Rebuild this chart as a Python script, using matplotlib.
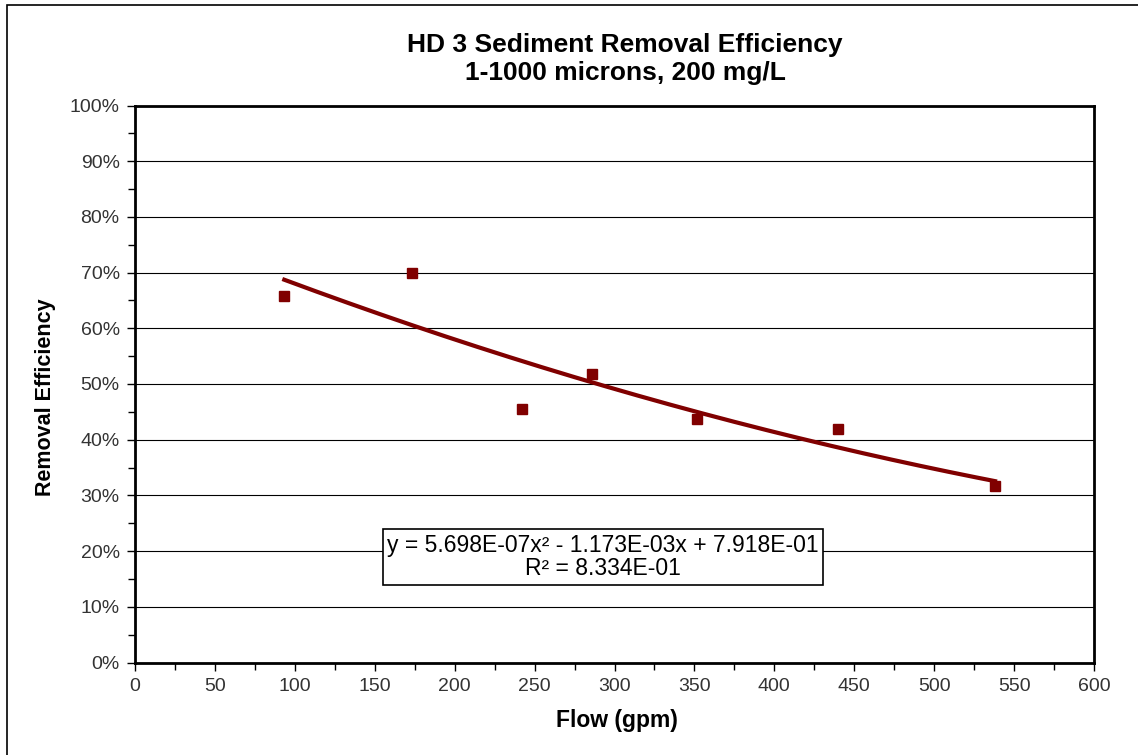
import numpy as np
import matplotlib.pyplot as plt
from matplotlib.ticker import MultipleLocator, PercentFormatter
from matplotlib.patches import Rectangle

plt.rcParams['font.family'] = ['Liberation Sans', 'DejaVu Sans']

# measured data
flow = [93.4, 173.5, 242.1, 285.9, 351.6, 439.8, 538.1]
efficiency = [65.8, 70.0, 45.5, 51.8, 43.7, 41.9, 31.6]

# trendline coefficients as printed on the chart (highest power first)
trend_coef = [5.698e-07, -1.173e-03, 7.918e-01]
r_squared = 8.334e-01

dark_red = '#800000'

fig = plt.figure(figsize=(11.38, 7.55), dpi=100)
ax = fig.add_axes([135 / 1138, 1 - 662.5 / 755, (1094 - 135) / 1138, (662.5 - 105.5) / 755])

# outer chart border (only left/top visible in the reference)
fig.patches.append(Rectangle((7 / 1138, -0.1), 1.2, 1 - 5 / 755 + 0.1, transform=fig.transFigure,
                             fill=False, edgecolor='black', linewidth=1.2))

xs = np.linspace(min(flow), max(flow), 200)
ax.plot(xs, np.polyval(trend_coef, xs) * 100, color=dark_red, linewidth=3, zorder=3)
ax.plot(flow, efficiency, 's', color=dark_red, markersize=7, zorder=4)

ax.set_xlim(0, 600)
ax.set_ylim(0, 100)
ax.xaxis.set_major_locator(MultipleLocator(50))
ax.xaxis.set_minor_locator(MultipleLocator(25))
ax.yaxis.set_major_locator(MultipleLocator(10))
ax.yaxis.set_minor_locator(MultipleLocator(5))
ax.yaxis.set_major_formatter(PercentFormatter(decimals=0))
ax.tick_params(which='both', direction='out', color='black', width=1)
ax.tick_params(which='major', length=6, labelsize=14, labelcolor='#333333', pad=5)
ax.tick_params(which='minor', length=5)
for s in ax.spines.values():
    s.set_linewidth(2)
ax.grid(axis='y', which='major', color='black', linewidth=0.8)
ax.set_axisbelow(True)

fig.text(617 / 1138, 1 - 720 / 755, 'Flow (gpm)', ha='center', va='center',
         fontsize=16.5, fontweight='bold')
fig.text(46 / 1138, 1 - 397 / 755, 'Removal Efficiency', ha='center', va='center',
         rotation=90, fontsize=15.5, fontweight='bold')

fig.text(625 / 1138, 1 - 59 / 755, 'HD 3 Sediment Removal Efficiency\n1-1000 microns, 200 mg/L',
         ha='center', va='center', fontsize=19, fontweight='bold', linespacing=1.2)

eq = ('y = %.3fE-07x² - %.3fE-03x + %.3fE-01\nR² = %.3fE-01'
      % (trend_coef[0] * 1e7, -trend_coef[1] * 1e3, trend_coef[2] * 10, r_squared * 10))
ax.text((603 - 135) / (1094 - 135), (662.5 - 557) / (662.5 - 105.5), eq, transform=ax.transAxes,
        ha='center', va='center', fontsize=16.5, linespacing=1.0,
        bbox=dict(boxstyle='square,pad=0.2', facecolor='white', edgecolor='black', linewidth=1.2))

fig.savefig('out.png', dpi=100)
